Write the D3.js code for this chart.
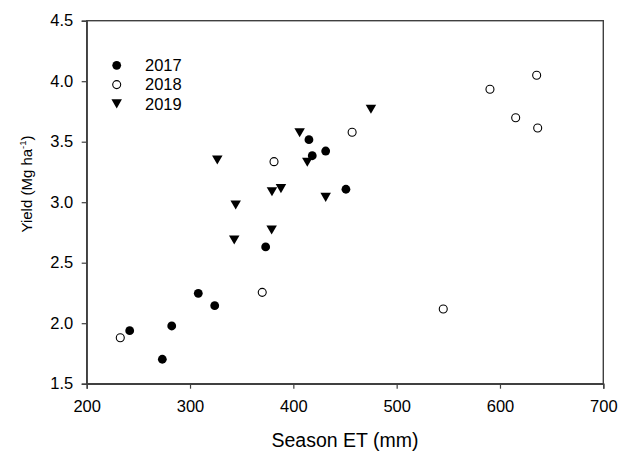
<!DOCTYPE html>
<html>
<head>
<meta charset="utf-8">
<script src="https://cdn.jsdelivr.net/npm/d3@7"></script>
<style>
  html, body { margin: 0; padding: 0; background: #fff; }
  text { font-family: Arial, "Liberation Sans", sans-serif; fill: #000; }
</style>
</head>
<body>
<svg id="chart" width="618" height="452"></svg>
<script>
// Season ET (mm) and Yield (Mg ha-1) per year
const et2017 = [241.6, 273.2, 282.3, 308.0, 323.9, 373.2, 415.1, 418.3, 431.3, 450.9];
const y2017  = [1.938, 1.702, 1.977, 2.247, 2.145, 2.630, 3.517, 3.384, 3.423, 3.107];
const et2018 = [232.5, 369.9, 381.3, 456.9, 545.1, 590.3, 615.2, 635.5, 636.5];
const y2018  = [1.880, 2.255, 3.335, 3.578, 2.117, 3.933, 3.698, 4.049, 3.613];
const et2019 = [326.4, 344.2, 342.8, 379.0, 379.3, 388.0, 406.1, 413.5, 431.3, 475.1];
const y2019  = [3.349, 2.977, 2.688, 2.770, 3.087, 3.112, 3.574, 3.330, 3.040, 3.768];
const xTicks = [200, 300, 400, 500, 600, 700];
const yTicks = [1.5, 2.0, 2.5, 3.0, 3.5, 4.0, 4.5];
const years = ["2017", "2018", "2019"];

const svg = d3.select("#chart");
const L = 86.7, R = 603.3, T = 20.7, B = 383.7;
const x = d3.scaleLinear().domain([200, 700]).range([L, R]);
const y = d3.scaleLinear().domain([1.5, 4.5]).range([B, T]);
const axisColor = "#404040";

// frame
svg.append("rect").attr("x", L).attr("y", T).attr("width", R - L).attr("height", B - T)
  .attr("fill", "none").attr("stroke", axisColor).attr("stroke-width", 1.4);

const xa = svg.append("g").attr("transform", `translate(0,${B})`)
  .call(d3.axisBottom(x).tickValues(xTicks).tickFormat(d3.format("d")).tickSize(5).tickPadding(12));
const ya = svg.append("g").attr("transform", `translate(${L},0)`)
  .call(d3.axisLeft(y).tickValues(yTicks).tickFormat(d3.format(".1f")).tickSize(5).tickPadding(8.5));
[xa, ya].forEach(a => {
  a.select(".domain").attr("stroke", axisColor).attr("stroke-width", 1.4);
  a.selectAll(".tick line").attr("stroke", axisColor).attr("stroke-width", 1.2);
  a.selectAll(".tick text").attr("font-size", "16.5px").attr("fill", "#111")
    .attr("font-family", "Arial, 'Liberation Sans', sans-serif");
});

// axis titles
svg.append("text").attr("x", (L + R) / 2).attr("y", 447.3).attr("text-anchor", "middle")
  .attr("font-size", "19.5px").text("Season ET (mm)");
const yt = svg.append("text").attr("transform", "translate(32,184) rotate(-90)")
  .attr("text-anchor", "middle").attr("font-size", "15px");
yt.append("tspan").text("Yield (Mg ha");
yt.append("tspan").attr("font-size", "9.5px").attr("dy", "-6").text("-1");
yt.append("tspan").attr("dy", "6").text(")");

// markers
const tri = s => { const h = s * 0.866; return `M${-s/2},${-h/2}L${s/2},${-h/2}L0,${h/2}Z`; };
function drawMarker(g, kind, cx, cy) {
  if (kind === 0) g.append("circle").attr("cx", cx).attr("cy", cy).attr("r", 4.4).attr("fill", "#000");
  else if (kind === 1) g.append("circle").attr("cx", cx).attr("cy", cy).attr("r", 4.0)
    .attr("fill", "#fff").attr("stroke", "#000").attr("stroke-width", 1.1);
  else g.append("path").attr("d", tri(10.5)).attr("transform", `translate(${cx},${cy})`).attr("fill", "#000");
}
const series = [[et2017, y2017], [et2018, y2018], [et2019, y2019]];
const pts = svg.append("g");
series.forEach(([xs, ys], k) => {
  xs.forEach((v, i) => drawMarker(pts, k, x(v), y(ys[i])));
});

// legend
const lg = svg.append("g");
years.forEach((yr, k) => {
  const cy = 65.3 + k * 19.3;
  drawMarker(lg, k, 116.7, cy);
  lg.append("text").attr("x", 145).attr("y", cy + 5.7).attr("font-size", "16.5px").text(yr);
});
</script>
</body>
</html>
